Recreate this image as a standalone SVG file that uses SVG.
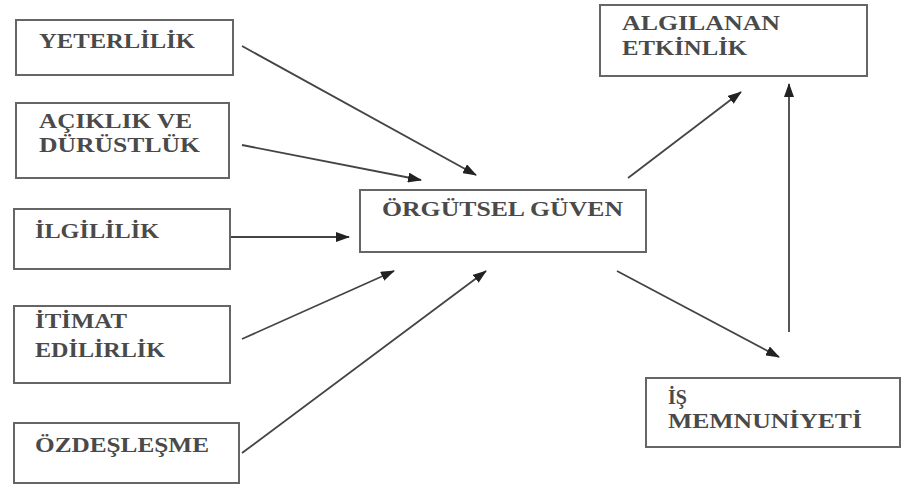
<svg xmlns="http://www.w3.org/2000/svg" width="904" height="487" viewBox="0 0 904 487">
<style>
.box{fill:#fff;stroke:#666;stroke-width:2}
.t{font-family:"Liberation Serif","Times New Roman",serif;font-weight:bold;font-size:20px;fill:#4a4a4a}
.c{stroke:#444;stroke-width:1.8;fill:none;marker-end:url(#ah)}
</style>
<defs>
<marker id="ah" markerWidth="14" markerHeight="10" refX="13" refY="5" orient="auto" markerUnits="userSpaceOnUse">
<path d="M0,0 L14,5 L0,10 Z" fill="#222"/>
</marker>
</defs>
<rect width="904" height="487" fill="#fff"/>
<g id="connectors">
<line class="c" x1="242" y1="46" x2="476" y2="175"/>
<line class="c" x1="242" y1="145" x2="421" y2="180"/>
<line class="c" x1="231" y1="237" x2="349" y2="237"/>
<line class="c" x1="242" y1="339" x2="394" y2="271"/>
<line class="c" x1="242" y1="453" x2="486" y2="271"/>
<line class="c" x1="628" y1="178" x2="741" y2="92"/>
<line class="c" x1="617" y1="271" x2="779" y2="357"/>
<line class="c" x1="789" y1="332" x2="789" y2="84"/>
</g>
<g id="yeterlilik">
<rect class="box" x="16" y="20" width="217" height="55"/>
<text class="t" x="39" y="48" textLength="156" lengthAdjust="spacingAndGlyphs">YETERLİLİK</text>
</g>
<g id="aciklik">
<rect class="box" x="16" y="103" width="213" height="75"/>
<text class="t" x="39" y="128" textLength="153" lengthAdjust="spacingAndGlyphs">AÇIKLIK VE</text>
<text class="t" x="39" y="152" textLength="161" lengthAdjust="spacingAndGlyphs">DÜRÜSTLÜK</text>
</g>
<g id="ilgililik">
<rect class="box" x="14" y="209" width="216" height="60"/>
<text class="t" x="35" y="238" textLength="124" lengthAdjust="spacingAndGlyphs">İLGİLİLİK</text>
</g>
<g id="itimat">
<rect class="box" x="14" y="306" width="216" height="77"/>
<text class="t" x="35" y="328" textLength="92" lengthAdjust="spacingAndGlyphs">İTİMAT</text>
<text class="t" x="35" y="357" textLength="130" lengthAdjust="spacingAndGlyphs">EDİLİRLİK</text>
</g>
<g id="ozdeslesme">
<rect class="box" x="14" y="423" width="225" height="60"/>
<text class="t" x="35" y="452" textLength="174" lengthAdjust="spacingAndGlyphs">ÖZDEŞLEŞME</text>
</g>
<g id="orgutsel">
<rect class="box" x="360" y="190" width="286" height="62"/>
<text class="t" x="382" y="216" textLength="241" lengthAdjust="spacingAndGlyphs">ÖRGÜTSEL GÜVEN</text>
</g>
<g id="algilanan">
<rect class="box" x="600" y="5" width="267" height="71"/>
<text class="t" x="622" y="30" textLength="158" lengthAdjust="spacingAndGlyphs">ALGILANAN</text>
<text class="t" x="622" y="55" textLength="125" lengthAdjust="spacingAndGlyphs">ETKİNLİK</text>
</g>
<g id="is">
<rect class="box" x="646" y="378" width="254" height="69"/>
<text class="t" x="668" y="404">İŞ</text>
<text class="t" x="668" y="428" textLength="194" lengthAdjust="spacingAndGlyphs">MEMNUNİYETİ</text>
</g>
</svg>
